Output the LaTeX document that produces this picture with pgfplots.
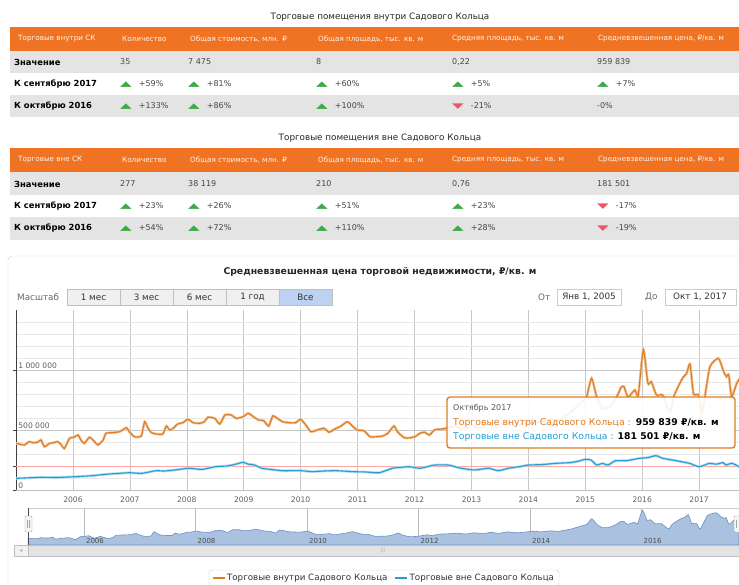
\documentclass[border=0pt]{standalone}
\usepackage{pgfplots}
\pgfplotsset{compat=1.18}
\usepackage{pgfplotstable}
\usepackage{fontspec}
\setmainfont{DejaVu Sans}
\definecolor{hdr}{RGB}{240,115,35}
\definecolor{rowg}{RGB}{228,228,228}
\definecolor{lorange}{RGB}{222,125,35}
\definecolor{lblue}{RGB}{38,158,210}
\definecolor{upg}{RGB}{60,170,70}
\definecolor{dnr}{RGB}{238,85,100}
\definecolor{navfill}{RGB}{170,194,224}
\definecolor{navline}{RGB}{105,145,195}
\definecolor{selbtn}{RGB}{188,210,240}
\definecolor{btn}{RGB}{240,240,240}
\definecolor{txt}{RGB}{70,70,70}

\pgfplotstableread{
x y
2005.00 389000
2005.08 380000
2005.15 375000
2005.23 403000
2005.30 394000
2005.38 398000
2005.44 417000
2005.50 361000
2005.59 389000
2005.67 395000
2005.73 403000
2005.79 380000
2005.85 347000
2005.94 431000
2006.02 440000
2006.09 458000
2006.14 417000
2006.20 389000
2006.29 439000
2006.38 403000
2006.44 375000
2006.53 417000
2006.58 472000
2006.70 478000
2006.82 486000
2006.94 519000
2006.99 486000
2007.08 444000
2007.20 450000
2007.26 569000
2007.32 514000
2007.38 478000
2007.46 467000
2007.58 467000
2007.64 533000
2007.70 500000
2007.76 514000
2007.84 550000
2007.93 561000
2008.02 589000
2008.11 561000
2008.23 556000
2008.31 569000
2008.37 606000
2008.49 597000
2008.58 550000
2008.67 625000
2008.78 625000
2008.87 597000
2008.99 611000
2009.08 639000
2009.17 611000
2009.26 583000
2009.35 578000
2009.44 533000
2009.51 617000
2009.59 597000
2009.68 569000
2009.79 561000
2009.91 561000
2010.00 589000
2010.09 542000
2010.18 486000
2010.29 500000
2010.41 514000
2010.50 481000
2010.59 506000
2010.71 533000
2010.82 569000
2010.91 533000
2010.99 500000
2011.11 494000
2011.22 444000
2011.34 444000
2011.44 450000
2011.53 472000
2011.64 533000
2011.70 486000
2011.82 436000
2011.94 436000
2012.03 450000
2012.09 472000
2012.18 481000
2012.26 458000
2012.35 500000
2012.47 508000
2012.56 514000
2012.70 530000
2012.85 505000
2013.00 540000
2013.15 515000
2013.30 550000
2013.45 525000
2013.60 565000
2013.75 540000
2013.90 555000
2014.05 585000
2014.20 565000
2014.35 595000
2014.50 580000
2014.62 610000
2014.75 650000
2014.90 720000
2015.02 775000
2015.11 931000
2015.20 775000
2015.30 683000
2015.42 690000
2015.55 775000
2015.63 856000
2015.68 861000
2015.75 775000
2015.87 833000
2015.93 790000
2016.02 1170000
2016.10 889000
2016.16 903000
2016.25 792000
2016.36 792000
2016.45 680000
2016.50 653000
2016.55 775000
2016.66 889000
2016.72 940000
2016.78 972000
2016.84 1050000
2016.90 803000
2016.99 792000
2017.05 640000
2017.10 775000
2017.19 1028000
2017.34 1097000
2017.43 986000
2017.48 944000
2017.52 960000
2017.57 778000
2017.66 889000
2017.75 959839
}\orangedata

\pgfplotstableread{
x y
2005.00 97000
2005.20 101000
2005.45 106000
2005.70 104000
2006.04 111000
2006.30 118000
2006.63 133000
2006.80 138000
2006.99 144000
2007.21 139000
2007.46 161000
2007.60 158000
2007.80 167000
2008.03 181000
2008.27 172000
2008.50 194000
2008.70 200000
2008.85 214000
2008.99 231000
2009.08 215000
2009.18 210000
2009.32 181000
2009.50 170000
2009.68 161000
2010.00 161000
2010.20 153000
2010.40 158000
2010.62 161000
2010.91 153000
2011.15 150000
2011.38 144000
2011.61 181000
2011.75 188000
2011.91 194000
2012.10 181000
2012.35 208000
2012.59 208000
2012.82 181000
2013.06 167000
2013.30 181000
2013.47 161000
2013.65 181000
2013.85 195000
2014.00 208000
2014.25 212000
2014.47 222000
2014.73 228000
2014.88 240000
2015.00 256000
2015.10 250000
2015.20 208000
2015.30 222000
2015.40 208000
2015.53 244000
2015.71 244000
2015.85 255000
2015.95 264000
2016.10 270000
2016.24 286000
2016.36 264000
2016.60 244000
2016.83 222000
2017.00 194000
2017.18 222000
2017.30 215000
2017.42 228000
2017.47 208000
2017.58 222000
2017.75 181501
}\bluedata

\newcommand{\up}[1]{{\color{upg}\scalebox{1.9}[0.9]{▲}}\hspace{7pt}#1}
\newcommand{\dn}[1]{{\color{dnr}\scalebox{1.9}[0.9]{▼}}\hspace{7pt}#1}

\begin{document}
\begin{tikzpicture}
\path[use as bounding box] (0,0) rectangle (739pt,-585pt);
\begin{scope}[x=1pt,y=-1pt,font=\fontsize{8}{9}\selectfont]
% ---------- table 1 ----------
\node[text=black!85,font=\fontsize{8.8}{10}\selectfont] at (380,17) {Торговые помещения внутри Садового Кольца};
\fill[hdr] (10,27) rectangle (745,51);
\fill[rowg] (10,51) rectangle (745,73);
\fill[rowg] (10,95) rectangle (745,117);
\foreach \xx/\tt in {18/Торговые внутри СК,122/Количество,190/{Общая стоимость, млн. ₽},318/{Общая площадь, тыс. кв. м},452/{Средняя площадь, тыс. кв. м},598/{Средневзвешенная цена, ₽/кв. м}}
  \node[anchor=west,inner sep=0,text=white!92!hdr,font=\fontsize{7.2}{8}\selectfont] at (\xx,39) {\tt};
\node[anchor=west,inner sep=0,font=\fontsize{8.4}{9}\bfseries] at (14,62) {Значение};
\node[anchor=west,inner sep=0,font=\fontsize{8.4}{9}\bfseries] at (14,84) {К сентябрю 2017};
\node[anchor=west,inner sep=0,font=\fontsize{8.4}{9}\bfseries] at (14,106) {К октябрю 2016};
\begin{scope}[every node/.style={anchor=west,inner sep=0,text=txt}]
\node at (120,62) {35}; \node at (188,62) {7 475}; \node at (316,62) {8}; \node at (452,62) {0,22}; \node at (597,62) {959 839};
\node at (120,84) {\up{+59\%}}; \node at (188,84) {\up{+81\%}}; \node at (316,84) {\up{+60\%}}; \node at (452,84) {\up{+5\%}}; \node at (597,84) {\up{+7\%}};
\node at (120,106) {\up{+133\%}}; \node at (188,106) {\up{+86\%}}; \node at (316,106) {\up{+100\%}}; \node at (452,106) {\dn{-21\%}}; \node at (597,106) {-0\%};
\end{scope}
% ---------- table 2 ----------
\node[text=black!85,font=\fontsize{8.8}{10}\selectfont] at (380,138) {Торговые помещения вне Садового Кольца};
\fill[hdr] (10,148) rectangle (745,172);
\fill[rowg] (10,172) rectangle (745,195);
\fill[rowg] (10,217) rectangle (745,240);
\foreach \xx/\tt in {18/Торговые вне СК,122/Количество,190/{Общая стоимость, млн. ₽},318/{Общая площадь, тыс. кв. м},452/{Средняя площадь, тыс. кв. м},598/{Средневзвешенная цена, ₽/кв. м}}
  \node[anchor=west,inner sep=0,text=white!92!hdr,font=\fontsize{7.2}{8}\selectfont] at (\xx,160) {\tt};
\node[anchor=west,inner sep=0,font=\fontsize{8.4}{9}\bfseries] at (14,184) {Значение};
\node[anchor=west,inner sep=0,font=\fontsize{8.4}{9}\bfseries] at (14,206) {К сентябрю 2017};
\node[anchor=west,inner sep=0,font=\fontsize{8.4}{9}\bfseries] at (14,228) {К октябрю 2016};
\begin{scope}[every node/.style={anchor=west,inner sep=0,text=txt}]
\node at (120,184) {277}; \node at (188,184) {38 119}; \node at (316,184) {210}; \node at (452,184) {0,76}; \node at (597,184) {181 501};
\node at (120,206) {\up{+23\%}}; \node at (188,206) {\up{+26\%}}; \node at (316,206) {\up{+51\%}}; \node at (452,206) {\up{+23\%}}; \node at (597,206) {\dn{-17\%}};
\node at (120,228) {\up{+54\%}}; \node at (188,228) {\up{+72\%}}; \node at (316,228) {\up{+110\%}}; \node at (452,228) {\up{+28\%}}; \node at (597,228) {\dn{-19\%}};
\end{scope}
% ---------- chart panel ----------
\draw[gray!40, rounded corners=4pt] (8,256) rectangle (760,600);
\node[font=\fontsize{9.3}{10}\bfseries,text=black!85] at (380,272) {Средневзвешенная цена торговой недвижимости, ₽/кв. м};
\begin{scope}[font=\fontsize{8.8}{9}\selectfont]
\node[anchor=west,inner sep=0,text=gray!80!black] at (17,297) {Масштаб};
\foreach \a/\b/\t in {67/120/1 мес,120/173/3 мес,173/226/6 мес,226/279/1 год}
  {\draw[gray!50, fill=btn] (\a,289) rectangle (\b,305); \node[text=black!80] at ({(\a+\b)/2},297) {\t};}
\draw[gray!50, fill=selbtn] (279,289) rectangle (332,305); \node[text=black!80] at (305.5,297) {Все};
\node[anchor=west,inner sep=0,text=gray!80!black] at (538,297) {От};
\draw[gray!40, fill=white] (557,289) rectangle (621,305); \node[text=black!80] at (589,297) {Янв 1, 2005};
\node[anchor=west,inner sep=0,text=gray!80!black] at (645,297) {До};
\draw[gray!40, fill=white] (665,289) rectangle (736,305); \node[text=black!80] at (700,297) {Окт 1, 2017};
\end{scope}
\end{scope}

% ---------- main axis ----------
\begin{axis}[at={(16pt,-490pt)}, anchor=south west, scale only axis,
  width=723pt, height=180pt,
  xmin=2005, xmax=2017.70, ymin=0, ymax=1500000,
  axis x line*=bottom, axis y line*=left,
  x axis line style={draw=gray!50,-},
  y axis line style={draw=black!75,line width=0.9pt,-},
  xtick={2006,2007,2008,2009,2010,2011,2012,2013,2014,2015,2016,2017},
  xticklabels={2006,2007,2008,2009,2010,2011,2012,2013,2014,2015,2016,2017},
  xtick style={draw=none},
  ytick={0,500000,1000000}, yticklabels={}, scaled y ticks=false,
  ytick style={draw=black!75}, tick align=outside, major tick length=3pt,
  minor ytick={100000,200000,300000,400000,600000,700000,800000,900000,1100000,1200000,1300000,1400000},
  minor tick length=0pt,
  grid=both,
  major grid style={gray!45,line width=0.5pt},
  minor grid style={gray!18,line width=0.5pt},
  extra y ticks={200000}, extra y tick labels={},
  extra y tick style={grid=major, major grid style={red!35,line width=0.5pt}, tick style={draw=none}},
  xticklabel style={font=\fontsize{7.6}{8}\selectfont, text=gray!75!black},
  legend style={at={(0.509,-0.489)}, anchor=center, legend columns=2,
    draw=gray!40, rounded corners=3pt, font=\fontsize{8.7}{10}\selectfont, text=black!80,
    inner ysep=2pt,
    /tikz/every even column/.append style={column sep=5pt}},
  legend image code/.code={\draw[#1,line width=1.1pt] (0pt,0pt) -- (12pt,0pt);},
  legend cell align=left,
  clip=true]
\addplot[lorange!45, line width=2.6pt, smooth, tension=0.35, forget plot] table {\orangedata};
\addplot[lblue!35, line width=2.6pt, smooth, tension=0.35, forget plot] table {\bluedata};
\addplot[lorange, line width=1.1pt, smooth, tension=0.35] table {\orangedata};
\addlegendentry{Торговые внутри Садового Кольца}
\addplot[lblue, line width=1.1pt, smooth, tension=0.35] table {\bluedata};
\addlegendentry{Торговые вне Садового Кольца}
\node[anchor=south west, inner sep=1pt, font=\fontsize{7.6}{8}\selectfont, text=gray!75!black] at (axis cs:2005.02,1000000) {1 000 000};
\node[anchor=south west, inner sep=1pt, font=\fontsize{7.6}{8}\selectfont, text=gray!75!black] at (axis cs:2005.02,500000) {500 000};
\node[anchor=south west, inner sep=1pt, font=\fontsize{7.6}{8}\selectfont, text=gray!75!black] at (axis cs:2005.02,0) {0};
\end{axis}

% ---------- tooltip ----------
\begin{scope}[x=1pt,y=-1pt,font=\fontsize{9.3}{10}\selectfont]
\draw[lorange, line width=1.4pt, rounded corners=3pt, fill=white, fill opacity=0.9] (447,397) rectangle (735,448);
\node[anchor=west,inner sep=0,text=gray!70!black,font=\fontsize{8}{9}\selectfont] at (453,408) {Октябрь 2017};
\node[anchor=west,inner sep=0] at (453,423) {\textcolor{lorange}{Торговые внутри Садового Кольца :}\hspace{5pt}\textbf{959 839 ₽/кв. м}};
\node[anchor=west,inner sep=0] at (453,437) {\textcolor{lblue}{Торговые вне Садового Кольца :}\hspace{4pt}\textbf{181 501 ₽/кв. м}};
\end{scope}

% ---------- navigator ----------
\begin{axis}[at={(28pt,-545pt)}, anchor=south west, scale only axis,
  width=711pt, height=37pt,
  xmin=2005, xmax=2017.75, ymin=200000, ymax=1230000,
  axis line style={draw=gray!40},
  xtick={2006,2008,2010,2012,2014,2016}, xticklabels={}, ytick=\empty,
  xmajorgrids, major grid style={gray!55,line width=0.4pt},
  tick style={draw=none}, clip=true]
\addplot[fill=navfill, draw=navline, line width=0.6pt, smooth, tension=0.3] table {\orangedata} \closedcycle;
\foreach \yy in {2006,2008,2010,2012,2014,2016}
  {\edef\tmp{\noexpand\node[anchor=south west, inner sep=1pt, font=\noexpand\fontsize{7}{8}\noexpand\selectfont, text=black!70] at (axis cs:\yy.02,200000) {\yy};}\tmp}
\end{axis}

\begin{scope}[x=1pt,y=-1pt,font=\fontsize{6}{7}\selectfont]
\draw[black!70,line width=0.6pt] (28,508) -- (28,545);
% scrollbar
\draw[gray!50, fill=gray!10] (14,545) rectangle (745,556);
\draw[gray!50, fill=gray!22] (28,545) rectangle (745,556);
\node[text=gray!60] at (14+7,550.5) {◂};
\node[text=gray!60,font=\fontsize{5}{5}\selectfont] at (383,550.5) {|||};
% handles
\draw[gray!70, fill=gray!8, rounded corners=1pt] (25,516) rectangle (32,532);
\draw[gray!70] (27.5,520) -- (27.5,528) (29.5,520) -- (29.5,528);
\draw[gray!70, fill=gray!8, rounded corners=1pt] (734,516) rectangle (741,532);
\draw[gray!70] (736.5,520) -- (736.5,528);
\end{scope}
\end{tikzpicture}
\end{document}
